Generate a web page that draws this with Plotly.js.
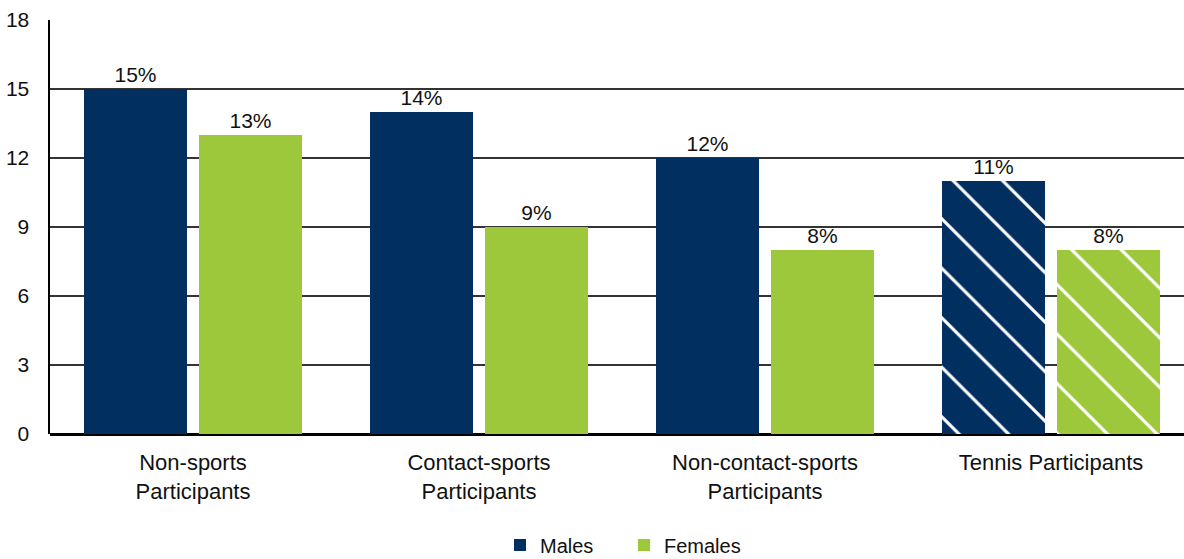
<!DOCTYPE html>
<html>
<head>
<meta charset="utf-8">
<script src="https://cdn.plot.ly/plotly-3.0.1.min.js"></script>
<style>html,body{margin:0;padding:0;background:#fff}#chart{width:1184px;height:559px}</style>
</head>
<body>
<div id="chart"></div>
<script>
const categories = ["Non-sports<br>Participants", "Contact-sports<br>Participants", "Non-contact-sports<br>Participants", "Tennis Participants"];
const males = [15, 14, 12, 11];
const females = [13, 9, 8, 8];
const seriesNames = ["Males", "Females"];
const yTicks = [0, 3, 6, 9, 12, 15, 18];

const navy = "#012F60";
const green = "#9DC83B";
const FONT = "Liberation Sans, Arial, Helvetica, sans-serif";

function patternShapes() {
  return categories.map((c, i) => i === categories.length - 1 ? "\\" : "");
}

function makeTrace(name, values, color) {
  return {
    type: "bar", name: name, x: categories, y: values,
    marker: { color: color, pattern: { shape: patternShapes(), fgcolor: "#ffffff", fgopacity: 1, bgcolor: color, size: 35, solidity: 0.09, fillmode: "overlay" } },
    texttemplate: "%{y}%", textposition: "outside", cliponaxis: false,
    textfont: { color: "#111", size: 21, family: FONT },
    hoverinfo: "skip"
  };
}

const traces = [
  makeTrace(seriesNames[0], males, navy),
  makeTrace(seriesNames[1], females, green)
];

const layout = {
  width: 1184, height: 559,
  margin: { l: 50, r: 0, t: 20, b: 125 },
  paper_bgcolor: "#ffffff", plot_bgcolor: "#ffffff",
  font: { family: FONT, size: 21, color: "#111" },
  barmode: "group", bargap: 0.196, bargroupgap: 0.104,
  showlegend: true,
  legend: {
    orientation: "h", xref: "container", yref: "container",
    x: 500 / 1184, xanchor: "left", y: 14 / 559, yanchor: "middle",
    font: { size: 20, color: "#111" }, entrywidth: 79, traceorder: "normal"
  },
  xaxis: {
    type: "category", range: [-0.5, 3.465], showgrid: false, showline: false, ticks: "",
    ticklabelstandoff: 13,
    tickfont: { size: 22, color: "#111" }, fixedrange: true
  },
  yaxis: {
    range: [0, 18], tickvals: yTicks, ticktext: yTicks.map(String),
    showgrid: true, gridcolor: "#333", gridwidth: 1.5,
    showline: true, linecolor: "#000", linewidth: 2.5,
    zeroline: true, zerolinecolor: "#000", zerolinewidth: 3,
    ticks: "", ticklabelstandoff: 14,
    tickfont: { size: 21, color: "#111" }, fixedrange: true
  }
};

Plotly.newPlot("chart", traces, layout, { displayModeBar: false, staticPlot: true });
</script>
</body>
</html>
